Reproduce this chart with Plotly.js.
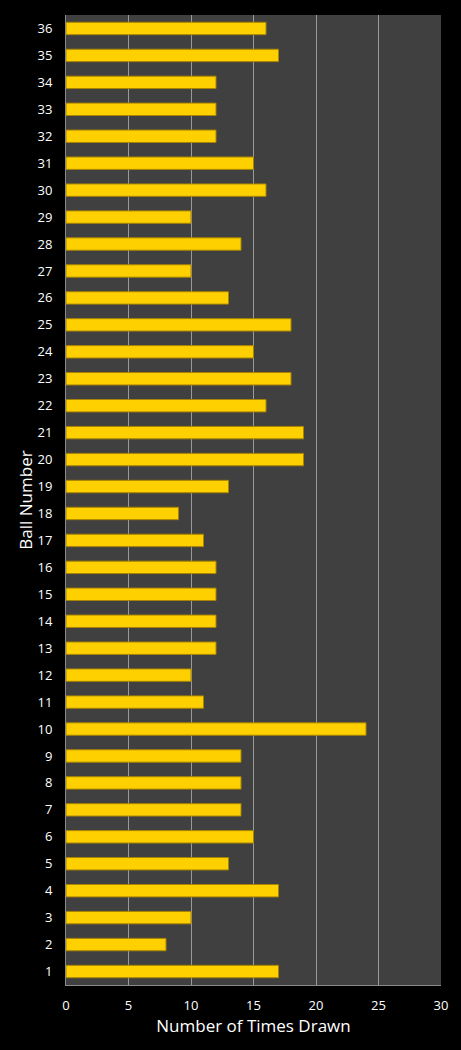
<!DOCTYPE html>
<html>
<head>
<meta charset="utf-8">
<script src="https://cdn.plot.ly/plotly-3.0.1.min.js"></script>
<style>html,body{margin:0;padding:0;background:#000;}</style>
</head>
<body>
<div id="chart" style="width:461px;height:1050px;"></div>
<script>
var balls = [1,2,3,4,5,6,7,8,9,10,11,12,13,14,15,16,17,18,19,20,21,22,23,24,25,26,27,28,29,30,31,32,33,34,35,36];
var timesDrawn = [17,8,10,17,13,15,14,14,14,24,11,10,12,12,12,12,11,9,13,19,19,16,18,15,18,13,10,14,10,16,15,12,12,12,17,16];
var xTicks = [0,5,10,15,20,25,30];

var traces = [{
  type: 'bar',
  orientation: 'h',
  x: timesDrawn,
  y: balls,
  width: 0.46,
  marker: {color: '#FFD000', line: {color: '#A88400', width: 1}},
  hoverinfo: 'x+y'
}];

var layout = {
  width: 461, height: 1050,
  paper_bgcolor: '#000000',
  plot_bgcolor: '#404040',
  margin: {l: 66, r: 20, t: 15, b: 65},
  showlegend: false,
  font: {family: 'Open Sans, sans-serif', color: '#ffffff', size: 13},
  xaxis: {
    range: [0, 30],
    tickvals: xTicks,
    ticktext: xTicks.map(String),
    showgrid: true, gridcolor: '#9a9a9a', gridwidth: 1,
    zeroline: false,
    showline: true, linecolor: '#8a8a8a', linewidth: 1,
    ticks: 'outside', ticklen: 8, tickcolor: 'rgba(0,0,0,0)',
    tickfont: {size: 13, color: '#ffffff'},
    title: {text: 'Number of Times Drawn', font: {size: 17, color: '#ffffff'}, standoff: 6},
    fixedrange: true
  },
  yaxis: {
    range: [0.5, 36.5],
    tickvals: balls,
    ticktext: balls.map(String),
    showgrid: false,
    zeroline: false,
    showline: true, linecolor: '#8a8a8a', linewidth: 1,
    ticks: 'outside', ticklen: 10, tickcolor: 'rgba(0,0,0,0)',
    tickfont: {size: 13, color: '#ffffff'},
    title: {text: 'Ball Number', font: {size: 17, color: '#ffffff'}, standoff: 0},
    fixedrange: true
  }
};

Plotly.newPlot('chart', traces, layout, {displayModeBar: false, staticPlot: true});
</script>
</body>
</html>
